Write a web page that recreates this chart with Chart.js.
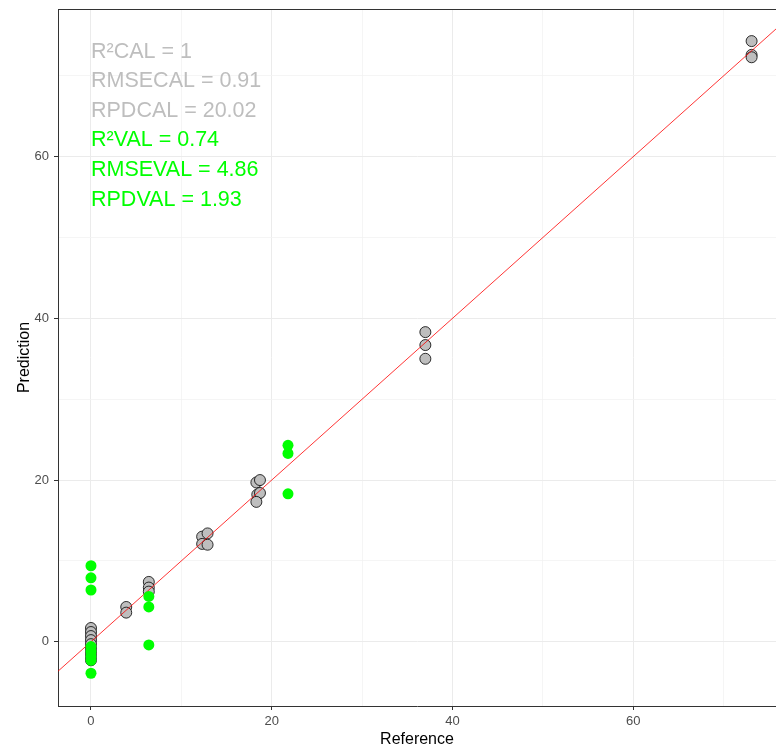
<!DOCTYPE html>
<html>
<head>
<meta charset="utf-8">
<script src="https://cdn.jsdelivr.net/npm/chart.js@4/dist/chart.umd.min.js"></script>
<style>
html,body{margin:0;padding:0;background:#fff;}
#wrap{width:776px;height:749px;position:relative;}
</style>
</head>
<body>
<div id="wrap"><canvas id="c" width="776" height="749"></canvas></div>
<script>
// Calibration set (grey points)
const calReference = [0,0,0,0,0,0,0,0,0, 3.9,3.9, 6.4,6.4,6.4, 12.3,12.9,12.3,12.9, 18.3,18.7,18.4,18.7,18.3, 37.0,37.0,37.0, 73.1,73.1,73.1];
const calPrediction = [1.7,1.2,0.7,0.2,-0.3,-0.8,-1.3,-1.8,-2.3, 4.3,3.6, 7.4,6.7,6.2, 13.0,13.4,12.1,12.0, 19.7,20.0,18.2,18.4,17.3, 38.3,36.7,35.0, 74.3,72.6,72.3];
// Validation set (green points)
const valReference = [0,0,0,0,0,0,0,0, 6.4,6.4,6.4, 21.8,21.8,21.8];
const valPrediction = [9.4,7.9,6.4,-0.6,-1.2,-1.8,-2.3,-3.9, 5.6,4.3,-0.4, 24.3,23.3,18.3];
// 1:1 reference line
const lineX = [-20, 100];
const lineY = [-20, 100];
// Statistics annotations
const statLabels = ["R\u00B2CAL = 1","RMSECAL = 0.91","RPDCAL = 20.02","R\u00B2VAL = 0.74","RMSEVAL = 4.86","RPDVAL = 1.93"];
const statX = [0,0,0,0,0,0];
const statY = [72.9,69.3,65.7,62.0,58.3,54.6];
const statColors = ["#BEBEBE","#BEBEBE","#BEBEBE","#00FF00","#00FF00","#00FF00"];
// Axis
const xMin = -3.65, xMax = 75.8, yMin = -7.95, yMax = 78.27;

const toPts = (xs, ys) => xs.map((x,i)=>({x:x, y:ys[i]}));

const statPlugin = {
  id:'stats',
  afterDatasetsDraw(chart){
    const {ctx, scales:{x,y}} = chart;
    ctx.save();
    ctx.font = '21.5px "Liberation Sans", Arial, sans-serif';
    ctx.textAlign = 'left';
    ctx.textBaseline = 'middle';
    statLabels.forEach((t,i)=>{
      ctx.fillStyle = statColors[i];
      ctx.fillText(t, x.getPixelForValue(statX[i]), y.getPixelForValue(statY[i]));
    });
    ctx.restore();
  },
  afterDraw(chart){
    const {ctx, chartArea:a} = chart;
    ctx.save();
    ctx.strokeStyle = '#333333';
    ctx.lineWidth = 1;
    ctx.beginPath();
    ctx.moveTo(a.left, a.top + 0.5);
    ctx.lineTo(a.right, a.top + 0.5);
    ctx.stroke();
    ctx.restore();
  }
};

const major = v => Math.abs(v % 20) < 1e-6;
const gridOpts = {
  color: c => major(c.tick.value) ? '#EBEBEB' : '#F3F3F3',
  lineWidth: c => major(c.tick.value) ? 1 : 0.8,
  tickColor: c => major(c.tick.value) ? '#333333' : 'rgba(0,0,0,0)',
  tickLength: 4,
  drawTicks: true
};

new Chart(document.getElementById('c'), {
  type: 'scatter',
  data: {
    datasets: [
      { label:'val', data: toPts(valReference, valPrediction), backgroundColor:'#00FF00', borderColor:'#00FF00', borderWidth:0, pointRadius:5.5, pointHoverRadius:5.5, order:1 },
      { label:'line', type:'line', data: toPts(lineX, lineY), borderColor:'#FF0000', borderWidth:0.8, pointRadius:0, fill:false, order:2 },
      { label:'cal', data: toPts(calReference, calPrediction), backgroundColor:'#BEBEBE', borderColor:'#000000', borderWidth:0.8, pointRadius:5.5, pointHoverRadius:5.5, order:3 }
    ]
  },
  options: {
    responsive:false,
    animation:false,
    devicePixelRatio:1,
    layout:{ autoPadding:false, padding:{ top:9, right:0, left:0, bottom:0 } },
    plugins:{ legend:{display:false}, tooltip:{enabled:false} },
    scales:{
      x:{
        type:'linear', min:xMin, max:xMax,
        afterFit: s => { s.height = 43; s.paddingLeft = 0; s.paddingRight = 0; },
        grid: gridOpts,
        border:{ display:true, color:'#333333', width:1 },
        ticks:{ stepSize:10, includeBounds:false, padding:4, color:'#4D4D4D', font:{ family:'"Liberation Sans", Arial, sans-serif', size:13 }, maxRotation:0, autoSkip:false,
          callback: v => major(v) ? String(v) : '' },
        title:{ display:true, text:'Reference', color:'#000000', font:{ family:'"Liberation Sans", Arial, sans-serif', size:16 }, padding:{top:0,bottom:0} }
      },
      y:{
        type:'linear', min:yMin, max:yMax,
        afterFit: s => { s.width = 58; s.paddingTop = 0; s.paddingBottom = 0; },
        grid: gridOpts,
        border:{ display:true, color:'#333333', width:1 },
        ticks:{ stepSize:10, includeBounds:false, padding:5, color:'#4D4D4D', font:{ family:'"Liberation Sans", Arial, sans-serif', size:13 }, autoSkip:false,
          callback: v => major(v) ? String(v) : '' },
        title:{ display:true, text:'Prediction', color:'#000000', font:{ family:'"Liberation Sans", Arial, sans-serif', size:16 }, padding:{top:15,bottom:0} }
      }
    }
  },
  plugins:[statPlugin]
});
</script>
</body>
</html>
